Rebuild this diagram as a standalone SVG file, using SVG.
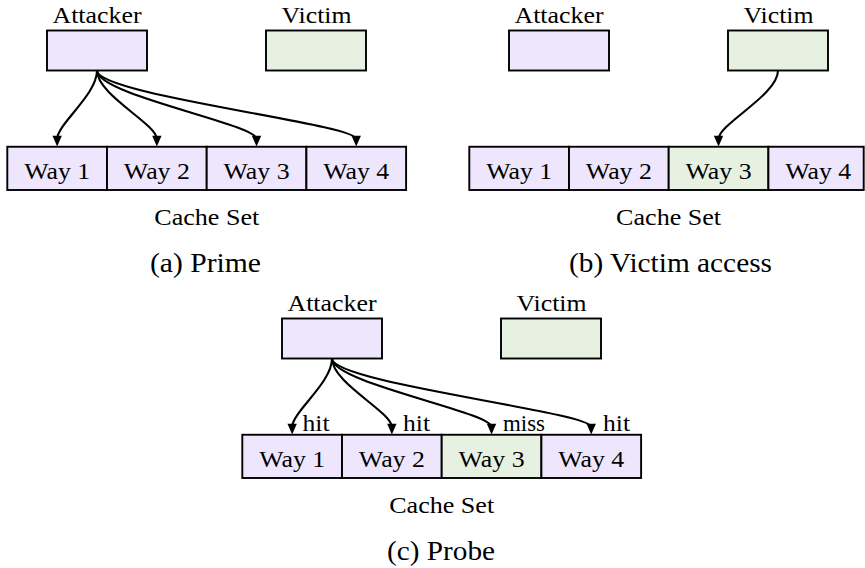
<svg xmlns="http://www.w3.org/2000/svg" width="865" height="568" viewBox="0 0 865 568" font-family="'Liberation Serif', 'DejaVu Serif', serif">
  <defs>
    <style>
      .box { stroke: #000; stroke-width: 1.9; }
      .att { fill: #EDE6FD; }
      .vic { fill: #E6F1E1; }
      text { font-family: "Liberation Serif", "DejaVu Serif", serif; }
      .t { font-size: 24px; fill: #000; text-anchor: middle; }
      .cap { font-size: 26.5px; }
      .lbl { font-size: 22.5px; text-anchor: start; }
      .wire { fill: none; stroke: #000; stroke-width: 2.1; marker-end: url(#tip); }
    </style>
    <marker id="tip" markerUnits="userSpaceOnUse" orient="auto" refX="0" refY="0" markerWidth="24" markerHeight="24" overflow="visible">
      <path d="M7.6,0 L-3.2,-4.7 L-3.2,4.7 Z" fill="#000"/>
    </marker>
  </defs>

  <!-- (a) Prime -->
  <g id="a-attacker">
    <text class="t" x="97" y="23" textLength="89" lengthAdjust="spacingAndGlyphs">Attacker</text>
    <rect class="box att" x="47" y="30.5" width="100" height="40"/>
  </g>
  <g id="a-victim">
    <text class="t" x="316.5" y="23" textLength="70" lengthAdjust="spacingAndGlyphs">Victim</text>
    <rect class="box vic" x="266" y="30.5" width="100" height="40"/>
  </g>
  <g id="a-cacheset">
    <g id="a-way1"><rect class="box att" x="7.3" y="146.75" width="99.7" height="43.25"/><text class="t" x="57.15" y="178.5" textLength="66" lengthAdjust="spacingAndGlyphs">Way 1</text></g>
    <g id="a-way2"><rect class="box att" x="107" y="146.75" width="99.7" height="43.25"/><text class="t" x="156.85" y="178.5" textLength="66" lengthAdjust="spacingAndGlyphs">Way 2</text></g>
    <g id="a-way3"><rect class="box att" x="206.7" y="146.75" width="99.7" height="43.25"/><text class="t" x="256.55" y="178.5" textLength="66" lengthAdjust="spacingAndGlyphs">Way 3</text></g>
    <g id="a-way4"><rect class="box att" x="306.4" y="146.75" width="99.7" height="43.25"/><text class="t" x="356.25" y="178.5" textLength="66" lengthAdjust="spacingAndGlyphs">Way 4</text></g>
    <text class="t" x="206.8" y="225" textLength="105" lengthAdjust="spacingAndGlyphs">Cache Set</text>
  </g>
  <text class="t cap" x="205.5" y="272" textLength="111" lengthAdjust="spacingAndGlyphs">(a) Prime</text>

  <!-- (b) Victim access -->
  <g id="b-attacker">
    <text class="t" x="559" y="23" textLength="89" lengthAdjust="spacingAndGlyphs">Attacker</text>
    <rect class="box att" x="509" y="30.5" width="100" height="40"/>
  </g>
  <g id="b-victim">
    <text class="t" x="778.5" y="23" textLength="70" lengthAdjust="spacingAndGlyphs">Victim</text>
    <rect class="box vic" x="728" y="30.5" width="100" height="40"/>
  </g>
  <g id="b-cacheset">
    <g id="b-way1"><rect class="box att" x="469.3" y="146.75" width="99.7" height="43.25"/><text class="t" x="519.15" y="178.5" textLength="66" lengthAdjust="spacingAndGlyphs">Way 1</text></g>
    <g id="b-way2"><rect class="box att" x="569" y="146.75" width="99.7" height="43.25"/><text class="t" x="618.85" y="178.5" textLength="66" lengthAdjust="spacingAndGlyphs">Way 2</text></g>
    <g id="b-way3"><rect class="box vic" x="668.7" y="146.75" width="99.7" height="43.25"/><text class="t" x="718.55" y="178.5" textLength="66" lengthAdjust="spacingAndGlyphs">Way 3</text></g>
    <g id="b-way4"><rect class="box att" x="768.4" y="146.75" width="95.3" height="43.25"/><text class="t" x="818.25" y="178.5" textLength="66" lengthAdjust="spacingAndGlyphs">Way 4</text></g>
    <text class="t" x="668.6" y="225" textLength="105" lengthAdjust="spacingAndGlyphs">Cache Set</text>
  </g>
  <text class="t cap" x="670.5" y="272" textLength="203" lengthAdjust="spacingAndGlyphs">(b) Victim access</text>

  <!-- (c) Probe -->
  <g id="c-attacker">
    <text class="t" x="332" y="311" textLength="89" lengthAdjust="spacingAndGlyphs">Attacker</text>
    <rect class="box att" x="282" y="318.5" width="100" height="40"/>
  </g>
  <g id="c-victim">
    <text class="t" x="551.5" y="311" textLength="70" lengthAdjust="spacingAndGlyphs">Victim</text>
    <rect class="box vic" x="501" y="318.5" width="100" height="40"/>
  </g>
  <g id="c-cacheset">
    <g id="c-way1"><rect class="box att" x="242.3" y="434.75" width="99.7" height="43.25"/><text class="t" x="292.15" y="466.5" textLength="66" lengthAdjust="spacingAndGlyphs">Way 1</text></g>
    <g id="c-way2"><rect class="box att" x="342" y="434.75" width="99.7" height="43.25"/><text class="t" x="391.85" y="466.5" textLength="66" lengthAdjust="spacingAndGlyphs">Way 2</text></g>
    <g id="c-way3"><rect class="box vic" x="441.7" y="434.75" width="99.7" height="43.25"/><text class="t" x="491.55" y="466.5" textLength="66" lengthAdjust="spacingAndGlyphs">Way 3</text></g>
    <g id="c-way4"><rect class="box att" x="541.4" y="434.75" width="99.7" height="43.25"/><text class="t" x="591.25" y="466.5" textLength="66" lengthAdjust="spacingAndGlyphs">Way 4</text></g>
    <text class="t" x="441.7" y="513" textLength="105" lengthAdjust="spacingAndGlyphs">Cache Set</text>
  </g>
  <text class="t cap" x="441" y="560" textLength="108" lengthAdjust="spacingAndGlyphs">(c) Probe</text>

  <!-- connectors -->
  <g id="connectors">
    <!-- (a) attacker primes every way -->
    <path class="wire" d="M97,70.5 C97,95 57.15,124 57.15,139"/>
    <path class="wire" d="M97,70.5 C97,95 156.85,124 156.85,139"/>
    <path class="wire" d="M97,70.5 C97,95 256.55,124 256.55,139"/>
    <path class="wire" d="M97,70.5 C97,95 356.25,124 356.25,139"/>
    <!-- (b) victim evicts way 3 -->
    <path class="wire" d="M778,70.5 C778,95 718.55,124 718.55,139"/>
    <!-- (c) attacker probes every way -->
    <path class="wire" d="M332,358.5 C332,383 292.15,412 292.15,427"/>
    <path class="wire" d="M332,358.5 C332,383 391.85,412 391.85,427"/>
    <path class="wire" d="M332,358.5 C332,383 491.55,412 491.55,427"/>
    <path class="wire" d="M332,358.5 C332,383 591.25,412 591.25,427"/>
    <text class="t lbl" x="302.5" y="431" textLength="27" lengthAdjust="spacingAndGlyphs">hit</text>
    <text class="t lbl" x="403" y="431" textLength="27" lengthAdjust="spacingAndGlyphs">hit</text>
    <text class="t lbl" x="503" y="431" textLength="42" lengthAdjust="spacingAndGlyphs">miss</text>
    <text class="t lbl" x="603" y="431" textLength="27" lengthAdjust="spacingAndGlyphs">hit</text>
  </g>
</svg>
